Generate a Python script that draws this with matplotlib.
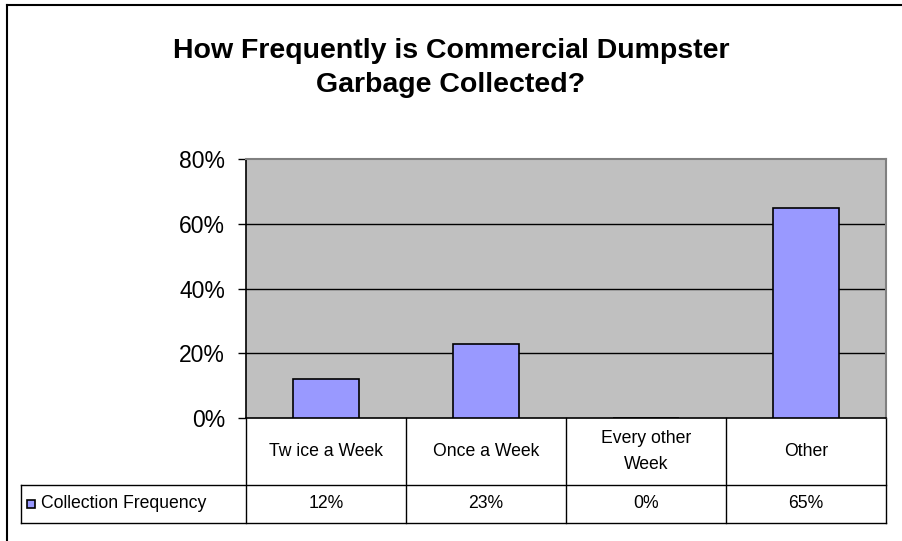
import matplotlib.pyplot as plt
from matplotlib.patches import Rectangle
import matplotlib.transforms as mtransforms

plt.rcParams['font.family'] = ['Liberation Sans', 'DejaVu Sans']

# Data
categories = ['Tw ice a Week', 'Once a Week', 'Every other\nWeek', 'Other']
values = [0.12, 0.23, 0.0, 0.65]
value_labels = ['12%', '23%', '0%', '65%']
series_name = 'Collection Frequency'
yticks = [0, 0.2, 0.4, 0.6, 0.8]
ytick_labels = ['0%', '20%', '40%', '60%', '80%']
title = 'How Frequently is Commercial Dumpster\nGarbage Collected?'

bar_color = '#9999FF'

fig = plt.figure(figsize=(9.02, 5.41), dpi=100)
W, H = 902, 541
ax = fig.add_axes([246 / W, 1 - 418 / H, 640 / W, 259 / H])
ax.set_facecolor('#C0C0C0')

x = list(range(len(categories)))
ax.bar(x, values, width=0.41, color=bar_color, edgecolor='black', linewidth=1.2, zorder=3)
ax.set_xlim(-0.5, len(categories) - 0.5)
ax.set_ylim(0, 0.8)

ax.set_yticks(yticks)
ax.set_yticklabels(ytick_labels, fontsize=16.5)
ax.tick_params(axis='y', length=6, width=1, pad=9, direction='out')
ax.set_xticks([])
for y in yticks[1:-1]:
    ax.axhline(y, color='black', linewidth=1, zorder=1)

ax.spines['top'].set_color('#808080')
ax.spines['right'].set_color('#808080')
ax.spines['top'].set_linewidth(1.5)
ax.spines['right'].set_linewidth(1.5)
ax.spines['left'].set_linewidth(1.2)
ax.spines['bottom'].set_linewidth(1.2)

# Data table below the plot
trans = mtransforms.blended_transform_factory(ax.transData, ax.transAxes)
row1 = -67 / 259
row2 = -105 / 259
legend_left = -0.5 - 225 / 160
line_kw = dict(color='black', linewidth=1, clip_on=False, transform=trans)
for i in range(len(categories) + 1):
    ax.plot([i - 0.5, i - 0.5], [0, row2], **line_kw)
ax.plot([legend_left, len(categories) - 0.5], [row1, row1], **line_kw)
ax.plot([legend_left, len(categories) - 0.5], [row2, row2], **line_kw)
ax.plot([legend_left, legend_left], [row1, row2], **line_kw)

for i, (c, v) in enumerate(zip(categories, value_labels)):
    ax.text(i, row1 / 2, c, ha='center', va='center', fontsize=12.7,
            transform=trans, linespacing=1.65)
    ax.text(i, (row1 + row2) / 2, v, ha='center', va='center', fontsize=12.7,
            transform=trans)

# legend key
ax.add_patch(Rectangle((legend_left + 0.04, (row1 + row2) / 2 - 0.017), 0.05, 0.034,
                       facecolor=bar_color, edgecolor='black', linewidth=1.2,
                       transform=trans, clip_on=False))
ax.text(legend_left + 0.125, (row1 + row2) / 2, series_name, ha='left', va='center',
        fontsize=12.7, transform=trans)

fig.text(0.5, 1 - 68 / H, title, ha='center', va='center', fontsize=20.5,
         fontweight='bold', linespacing=1.45)

# outer chart frame (top and left edges visible)
fig.add_artist(plt.Line2D([7 / W, 1], [1 - 5 / H, 1 - 5 / H], color='black', linewidth=1.5))
fig.add_artist(plt.Line2D([7 / W, 7 / W], [0, 1 - 5 / H], color='black', linewidth=1.5))

fig.savefig('out.png', dpi=100)
